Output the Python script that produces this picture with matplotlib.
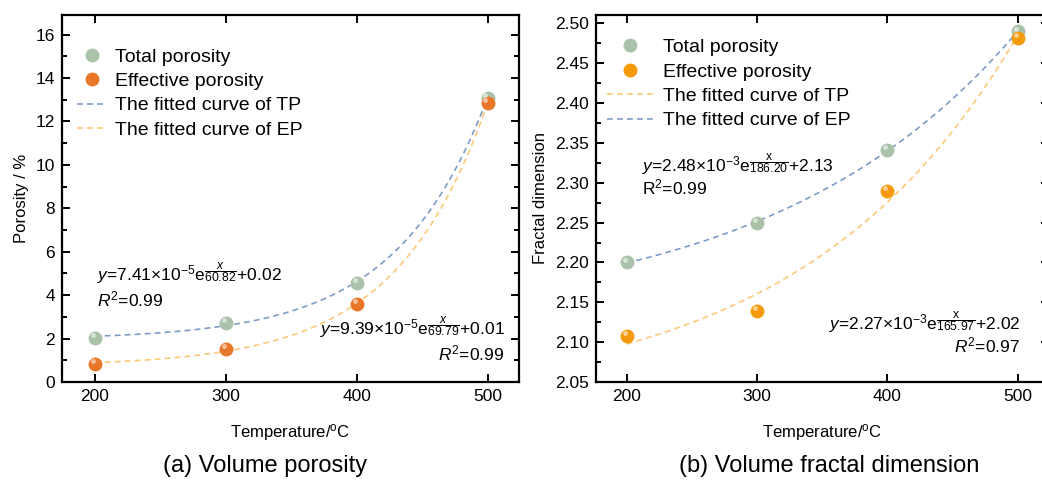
import numpy as np
import matplotlib
matplotlib.use("Agg")
import matplotlib.pyplot as plt
from matplotlib.lines import Line2D
from matplotlib import transforms as mtrans

plt.rcParams['font.family'] = ['Liberation Sans', 'DejaVu Sans']
plt.rcParams['mathtext.fontset'] = 'custom'
plt.rcParams['mathtext.rm'] = 'Liberation Sans'
plt.rcParams['mathtext.it'] = 'Liberation Sans:italic'
plt.rcParams['mathtext.bf'] = 'Liberation Sans:bold'

# ---------------- data ----------------
temperature = [200, 300, 400, 500]
porosity_tp = [2.02, 2.72, 4.58, 13.10]
porosity_ep = [0.82, 1.52, 3.58, 12.84]
fractal_tp = [2.200, 2.250, 2.341, 2.490]
fractal_ep = [2.108, 2.139, 2.290, 2.482]

eq_a_tp = r'$y$=7.41×10$^{-5}$e$^{\dfrac{x}{60.82}}$+0.02'
eq_a_ep = r'$y$=9.39×10$^{-5}$e$^{\dfrac{x}{69.79}}$+0.01'
eq_b_tp = r'$y$=2.48×10$^{-3}$e$^{\dfrac{\mathrm{x}}{186.20}}$+2.13'
eq_b_ep = r'$y$=2.27×10$^{-3}$e$^{\dfrac{\mathrm{x}}{165.97}}$+2.02'
r2_a_tp = r'$R^2$=0.99'
r2_a_ep = r'$R^2$=0.99'
r2_b_tp = r'R$^2$=0.99'
r2_b_ep = r'$R^2$=0.97'

C_TP = '#a9c2a9'
C_EP_A = '#e8772a'
C_EP_B = '#f59a0c'
C_BLUE = '#7f9cc4'
C_ORANGE = '#fbc978'


def exp_fit(x, y):
    x = np.asarray(x, float); y = np.asarray(y, float)
    best = None
    for t in np.linspace(20, 600, 2901):
        A = np.column_stack([np.exp((x - 200) / t), np.ones_like(x)])
        coef, res, *_ = np.linalg.lstsq(A, y, rcond=None)
        err = np.sum((A @ coef - y) ** 2)
        if best is None or err < best[0]:
            best = (err, t, coef)
    _, t, coef = best
    return lambda xx: coef[0] * np.exp((np.asarray(xx) - 200) / t) + coef[1]


def sphere(ax, x, y, color, ms=10):
    ax.plot(x, y, 'o', ms=ms, color=color, mec=color, mew=0, zorder=4, ls='none')
    off = mtrans.offset_copy(ax.transData, fig=ax.figure, x=-1.5, y=2.0, units='points')
    ax.plot(x, y, 'o', ms=ms * 0.35, color='white', alpha=0.55, mew=0,
            transform=off, zorder=5, ls='none')


fig = plt.figure(figsize=(10.42, 4.8), dpi=100)
axA = fig.add_axes([62 / 1042, 1 - 382 / 480, (519 - 62) / 1042, (382 - 15) / 480])
axB = fig.add_axes([596 / 1042, 1 - 382 / 480, (1049 - 596) / 1042, (382 - 15) / 480])

xs = np.linspace(200, 500, 300)
DASH = (0, (3.5, 2.5))
EQ_FS = 12.5

# ---- panel a ----
fa_tp = exp_fit(temperature, porosity_tp)
fa_ep = exp_fit(temperature, porosity_ep)
axA.plot(xs, fa_tp(xs), ls=DASH, color=C_BLUE, lw=1.2, zorder=3)
axA.plot(xs, fa_ep(xs), ls=DASH, color=C_ORANGE, lw=1.2, zorder=3)
sphere(axA, temperature, porosity_tp, C_TP)
sphere(axA, temperature, porosity_ep, C_EP_A)
axA.set_xlim(175, 524)
axA.set_ylim(0, 16.9)
axA.set_xticks(temperature)
axA.set_yticks(np.arange(0, 17, 2))
axA.set_yticks(np.arange(1, 17, 2), minor=True)
axA.set_ylabel('Porosity / %', fontsize=12, labelpad=5)
axA.set_xlabel(r'Temperature/$^{\mathrm{o}}$C', fontsize=12, labelpad=13)
axA.text(201.5, 4.65, eq_a_tp, fontsize=EQ_FS, ha='left', va='baseline')
axA.text(201.5, 3.5, r2_a_tp, fontsize=EQ_FS, ha='left', va='baseline')
axA.text(513, 2.15, eq_a_ep, fontsize=EQ_FS, ha='right', va='baseline')
axA.text(513, 1.0, r2_a_ep, fontsize=EQ_FS, ha='right', va='baseline')

hA = [Line2D([], [], marker='o', ls='none', ms=10, color=C_TP, mew=0),
      Line2D([], [], marker='o', ls='none', ms=10, color=C_EP_A, mew=0),
      Line2D([], [], ls=DASH, color=C_BLUE, lw=1.2),
      Line2D([], [], ls=DASH, color=C_ORANGE, lw=1.2)]
axA.legend(hA, ['Total porosity', 'Effective porosity', 'The fitted curve of TP', 'The fitted curve of EP'],
           loc='upper left', bbox_to_anchor=(0.0, 0.95), frameon=False, fontsize=14,
           handlelength=1.55, handletextpad=0.45, labelspacing=0.35, borderaxespad=0.35)

# ---- panel b ----
fb_tp = exp_fit(temperature, fractal_tp)
fb_ep = exp_fit(temperature, fractal_ep)
axB.plot(xs, fb_tp(xs), ls=DASH, color=C_BLUE, lw=1.2, zorder=3)
axB.plot(xs, fb_ep(xs), ls=DASH, color=C_ORANGE, lw=1.2, zorder=3)
sphere(axB, temperature, fractal_tp, C_TP)
sphere(axB, temperature, fractal_ep, C_EP_B)
axB.set_xlim(176.5, 524)
axB.set_ylim(2.05, 2.5105)
axB.set_xticks(temperature)
axB.set_yticks(np.arange(2.05, 2.501, 0.05))
axB.set_yticks(np.arange(2.075, 2.51, 0.05), minor=True)
axB.yaxis.set_major_formatter(matplotlib.ticker.FormatStrFormatter('%.2f'))
axB.set_ylabel('Fractal dimension', fontsize=12, labelpad=5)
axB.set_xlabel(r'Temperature/$^{\mathrm{o}}$C', fontsize=12, labelpad=13)
axB.text(212, 2.313, eq_b_tp, fontsize=EQ_FS, ha='left', va='baseline')
axB.text(212, 2.285, r2_b_tp, fontsize=EQ_FS, ha='left', va='baseline')
axB.text(502, 2.115, eq_b_ep, fontsize=EQ_FS, ha='right', va='baseline')
axB.text(502, 2.087, r2_b_ep, fontsize=EQ_FS, ha='right', va='baseline')

hB = [Line2D([], [], marker='o', ls='none', ms=10, color=C_TP, mew=0),
      Line2D([], [], marker='o', ls='none', ms=10, color=C_EP_B, mew=0),
      Line2D([], [], ls=DASH, color=C_ORANGE, lw=1.2),
      Line2D([], [], ls=DASH, color=C_BLUE, lw=1.2)]
axB.legend(hB, ['Total porosity', 'Effective porosity', 'The fitted curve of TP', 'The fitted curve of EP'],
           loc='upper left', bbox_to_anchor=(0.0, 0.965), frameon=False, fontsize=14,
           handlelength=2.4, handletextpad=0.5, labelspacing=0.35, borderaxespad=0.15)

for ax in (axA, axB):
    for s in ax.spines.values():
        s.set_linewidth(1.6)
    ax.tick_params(which='both', direction='in', top=True, right=True, labelsize=12.5, width=1.4, pad=5)
    ax.tick_params(which='major', length=6)
    ax.tick_params(which='minor', length=3.5)
    ax.tick_params(axis='x', which='minor', top=False, bottom=False)

fig.text(265 / 1042, 1 - 466 / 480, '(a) Volume porosity', fontsize=17, ha='center', va='center')
fig.text(829 / 1042, 1 - 466 / 480, '(b) Volume fractal dimension', fontsize=17, ha='center', va='center')

fig.savefig('out.png', dpi=100)
